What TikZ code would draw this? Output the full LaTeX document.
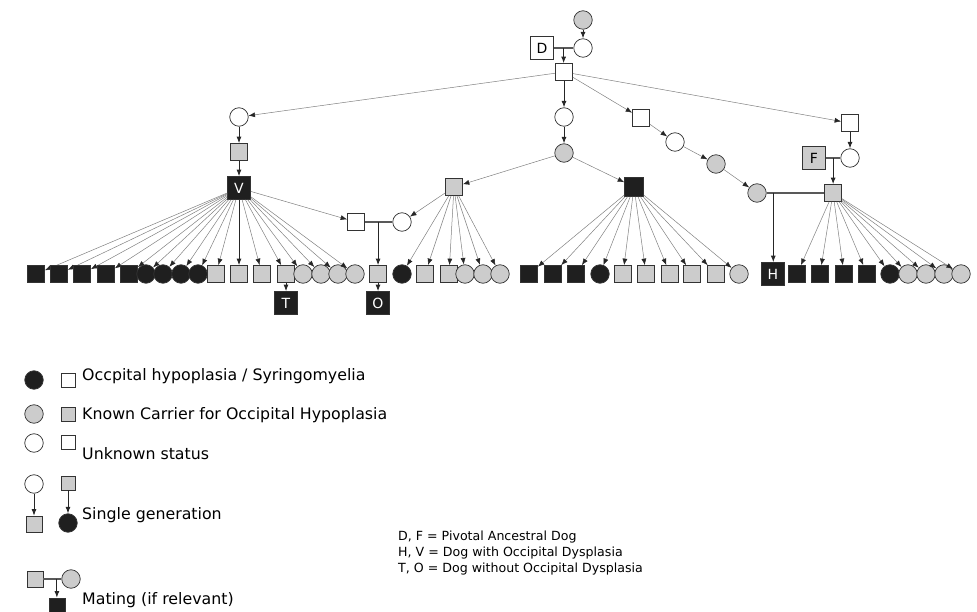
\documentclass[tikz,border=0pt]{standalone}
\usepackage{fontspec}
\setmainfont{DejaVu Sans}
\usetikzlibrary{arrows.meta,positioning,calc}
\definecolor{carrier}{gray}{0.80}
\definecolor{affected}{gray}{0.12}
\definecolor{linkgray}{gray}{0.50}

\begin{document}
\begin{tikzpicture}[x=1pt,y=-1pt,
   dog/.style={draw=black!80,line width=0.7pt,inner sep=0pt,minimum size=17pt},
   usq/.style={dog,rectangle,fill=white},
   csq/.style={dog,rectangle,fill=carrier},
   asq/.style={dog,rectangle,fill=affected},
   ucr/.style={dog,circle,fill=white,minimum size=18.5pt},
   ccr/.style={dog,circle,fill=carrier,minimum size=18.5pt},
   acr/.style={dog,circle,fill=affected,minimum size=18.5pt},
   named/.style={minimum size=23pt,font=\fontsize{14}{14}\selectfont},
   link/.style={draw=linkgray,line width=0.5pt,-{Latex[length=6.5pt,width=5pt,color=black!85]}},
   drop/.style={draw=black!85,line width=0.9pt,-{Latex[length=6.5pt,width=5pt]}},
   mate/.style={draw=black!65,line width=1.1pt},
   key/.style={anchor=west,inner sep=0pt,font=\fontsize{15.8}{18}\selectfont},
   note/.style={anchor=west,inner sep=0pt,font=\fontsize{12.6}{16}\selectfont}]
  \useasboundingbox (0,0) rectangle (977,612);

  \node[ccr] (g1) at (583,20) {};
  \node[ucr] (m1) at (583,48) {};
  \node[usq,named] (D) at (542,48) {D};
  \node[usq] (c1) at (564,72) {};
  \draw[drop] (g1) -- (m1);
  \draw[mate] (D) -- coordinate[pos=0.5] (dm) (m1);
  \draw[drop] (dm) -- (dm |- c1.north);

  \node[ucr] (a1) at (239,117) {};
  \node[csq] (a2) at (239,152) {};
  \node[asq,named,text=white] (V) at (239,188) {V};
  \draw[link] (c1) -- (a1);
  \draw[drop] (a1) -- (a2);
  \draw[drop] (a2) -- (V);
  \foreach \x/\k [count=\i] in {36/asq,59/asq,82/asq,106/asq,129/asq,146/acr,163/acr,181/acr,198/acr,
                                216/csq,262/csq,286/csq,303/ccr,321/ccr,338/ccr,355/ccr}
    {\node[\k] (v\i) at (\x,274) {};
     \draw[link] (V) -- (v\i);}
  \node[csq] (vm) at (239,274) {};
  \draw[drop] (V) -- (vm);
  \node[asq,named,text=white] (T) at (286,303) {T};
  \draw[drop] (v12) -- (T);

  \node[usq] (p1) at (356,222) {};
  \node[ucr] (p2) at (402,222) {};
  \node[csq] (k1) at (378,274) {};
  \node[asq,named,text=white] (O) at (378,303) {O};
  \draw[link] (V) -- (p1);
  \draw[mate] (p1) -- coordinate[pos=0.48] (pm) (p2);
  \draw[drop] (pm) -- (pm |- k1.north);
  \draw[drop] (k1) -- (O);

  \node[ucr] (b1) at (564,117) {};
  \node[ccr] (b2) at (564,153) {};
  \node[csq] (b3) at (454,187) {};
  \node[asq,minimum size=19pt] (b4) at (634,187) {};
  \draw[drop] (c1) -- (b1);
  \draw[drop] (b1) -- (b2);
  \draw[link] (b2) -- (b3);
  \draw[link] (b2) -- (b4);
  \draw[link] (b3) -- (p2);
  \foreach \x/\k [count=\i] in {402/acr,425/csq,449/csq,465/ccr,483/ccr,500/ccr}
    {\node[\k] (s\i) at (\x,274) {};
     \draw[link] (b3) -- (s\i);}
  \foreach \x/\k [count=\i] in {529/asq,553/asq,576/asq,600/acr,623/csq,646/csq,670/csq,692/csq,716/csq,739/ccr}
    {\node[\k] (n\i) at (\x,274) {};
     \draw[link] (b4) -- (n\i);}

  \node[usq] (e1) at (641,118) {};
  \node[ucr] (e2) at (675,142) {};
  \node[ccr] (e3) at (716,164) {};
  \node[ccr] (e4) at (757,193) {};
  \draw[link] (c1) -- (e1);
  \draw[link] (e1) -- (e2);
  \draw[link] (e2) -- (e3);
  \draw[link] (e3) -- (e4);

  \node[usq] (f1) at (850,123) {};
  \node[ucr] (f2) at (850,158) {};
  \node[csq,named] (F) at (814,158) {F};
  \node[csq] (f3) at (833,193) {};
  \draw[link] (c1) -- (f1);
  \draw[drop] (f1) -- (f2);
  \draw[mate] (F) -- coordinate[pos=0.5] (fm) (f2);
  \draw[drop] (fm) -- (fm |- f3.north);
  \node[asq,named,text=white] (H) at (773,274) {H};
  \draw[mate] (e4) -- coordinate[pos=0.116] (hm) (f3);
  \draw[drop] (hm) -- (hm |- H.north);
  \foreach \x/\k [count=\i] in {797/asq,820/asq,844/asq,867/asq,890/acr,908/ccr,926/ccr,944/ccr,961/ccr}
    {\node[\k] (h\i) at (\x,274) {};
     \draw[link] (f3) -- (h\i);}

  \node[acr] (l1a) at (34,380) {};
  \node[usq,minimum size=14pt] (l1b) at (68,380) {};
  \node[key] (t1) at (82,376) {Occpital hypoplasia / Syringomyelia};
  \node[ccr] (l2a) at (34,414) {};
  \node[csq,minimum size=14pt] (l2b) at (68,414) {};
  \node[key] (t2) at (82,415) {Known Carrier for Occipital Hypoplasia};
  \node[ucr] (l3a) at (34,443) {};
  \node[usq,minimum size=14pt] (l3b) at (68,442) {};
  \node[key] (t3) at (82,454) {Unknown status};
  \node[ucr] (l4a) at (34,484) {};
  \node[csq,minimum size=16pt] (l4b) at (34,524) {};
  \node[csq,minimum size=14pt] (l4c) at (68,483) {};
  \node[acr] (l4d) at (68,523) {};
  \draw[drop] (l4a) -- (l4b);
  \draw[drop] (l4c) -- (l4d);
  \node[key] (t4) at (82,515) {Single generation};
  \node[csq,minimum size=16pt] (l5a) at (35,579) {};
  \node[ccr] (l5b) at (71,579) {};
  \node[asq,minimum size=16pt] (l5c) at (57,606) {};
  \draw[mate] (l5a) -- coordinate[pos=0.75] (lm) (l5b);
  \draw[drop] (lm) -- (lm |- l5c.north);
  \node[key] (t5) at (82,600) {Mating (if relevant)};

  \node[note] (n1) at (398,537) {D, F = Pivotal Ancestral Dog};
  \node[note] (n2) at (398,553) {H, V = Dog with Occipital Dysplasia};
  \node[note] (n3) at (398,569) {T, O = Dog without Occipital Dysplasia};
\end{tikzpicture}
\end{document}
